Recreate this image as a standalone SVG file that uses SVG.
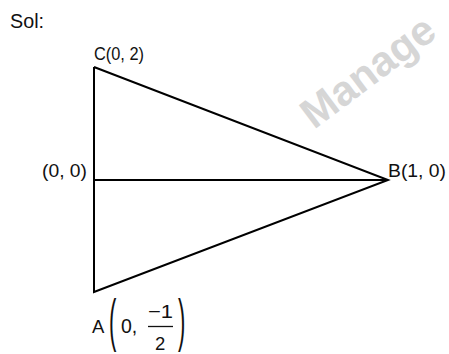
<svg xmlns="http://www.w3.org/2000/svg" width="449" height="354" viewBox="0 0 449 354">
<style>
.t{font-family:"Liberation Sans",Arial,sans-serif;fill:#111;}
.e{stroke:#000;stroke-width:2;fill:none;stroke-linejoin:miter;}
.wm{font-family:"Liberation Sans",Arial,sans-serif;font-weight:bold;fill:#d6d6d6;}
</style>
<rect width="449" height="354" fill="#fff"/>
<text class="wm" font-size="42" transform="translate(314,130) rotate(-37)">Manage</text>
<text class="t" x="10" y="28" font-size="20" textLength="34" lengthAdjust="spacingAndGlyphs">Sol:</text>
<g id="connectors">
<polyline class="e" points="94,67 388,180 94,292 94,67"/>
<line class="e" x1="94" y1="180" x2="388" y2="180"/>
</g>
<g id="C"><text class="t" x="94" y="60" font-size="17.5" textLength="50" lengthAdjust="spacingAndGlyphs">C(0, 2)</text></g>
<g id="O"><text class="t" x="42" y="177" font-size="18" textLength="45" lengthAdjust="spacingAndGlyphs">(0, 0)</text></g>
<g id="B"><text class="t" x="388" y="177" font-size="18.5" textLength="58" lengthAdjust="spacingAndGlyphs">B(1, 0)</text></g>
<g id="A">
<text class="t" x="92" y="333" font-size="18.5">A</text>
<text class="t" font-size="58" transform="translate(109,340) scale(0.38,1)">(</text>
<text class="t" x="121" y="333" font-size="19.5">0,</text>
<text class="t" x="148" y="318" font-size="18.5" textLength="25" lengthAdjust="spacingAndGlyphs">−1</text>
<line x1="148" y1="326.5" x2="173" y2="326.5" stroke="#111" stroke-width="1.3"/>
<text class="t" x="155" y="350" font-size="18.5">2</text>
<text class="t" font-size="58" transform="translate(178,340) scale(0.38,1)">)</text>
</g>
</svg>
